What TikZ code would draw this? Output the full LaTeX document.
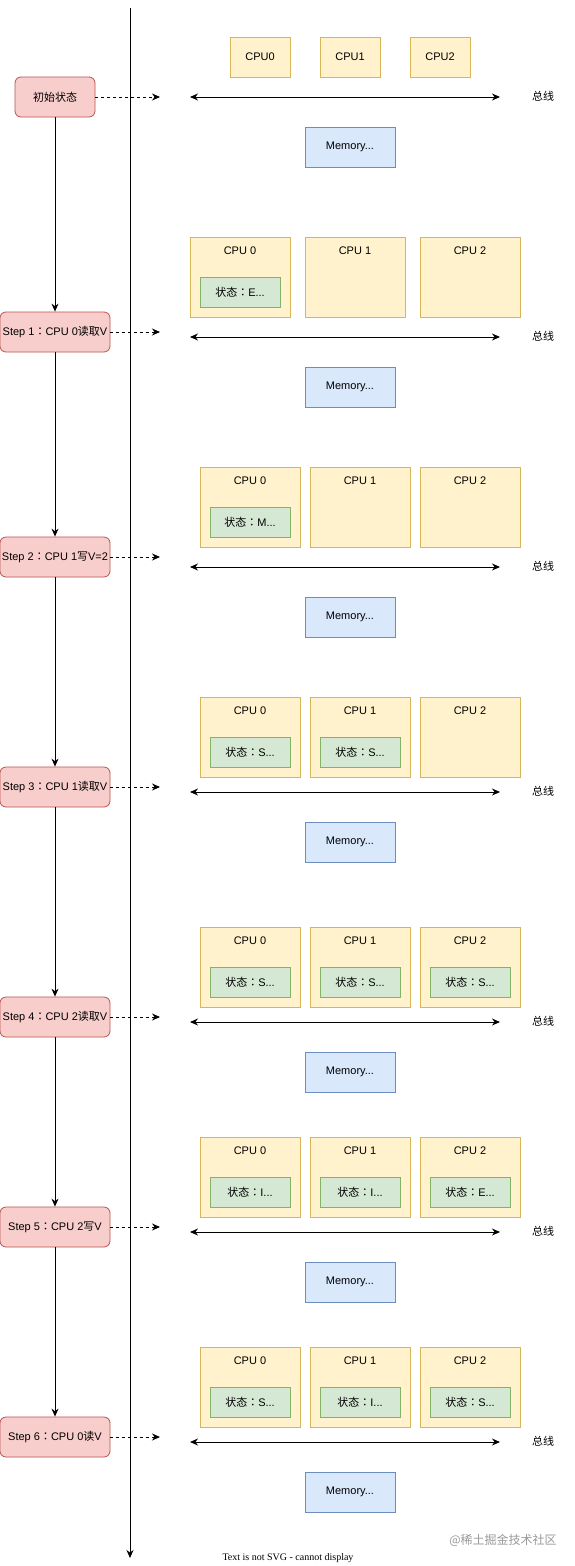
\documentclass[tikz,border=0pt]{standalone}
\usepackage{fontspec}
\setmainfont{Liberation Sans}
\newfontfamily\cjk{Noto Sans CJK SC}
\newfontfamily\cjkc{Noto Sans CJK TC}
\newfontfamily\serifont{Liberation Serif}
\usetikzlibrary{arrows.meta}
\definecolor{pinkF}{HTML}{F8CECC}
\definecolor{pinkD}{HTML}{B85450}
\definecolor{yelF}{HTML}{FFF2CC}
\definecolor{yelD}{HTML}{D6B656}
\definecolor{grnF}{HTML}{D5E8D4}
\definecolor{grnD}{HTML}{82B366}
\definecolor{bluF}{HTML}{DAE8FC}
\definecolor{bluD}{HTML}{6C8EBF}
\newcommand{\zh}[1]{{\cjk #1}}
\newcommand{\cln}{{\cjkc ：}}
\tikzset{
  stepbox/.style={draw=pinkD, fill=pinkF, rounded corners=6pt, minimum width=110pt, minimum height=40pt, inner sep=0pt, line width=0.8pt},
  cpubig/.style={draw=yelD, fill=yelF, minimum width=100pt, minimum height=80pt, inner sep=0pt, line width=0.8pt},
  cpusmall/.style={draw=yelD, fill=yelF, minimum width=60pt, minimum height=40pt, inner sep=0pt, line width=0.8pt},
  statebox/.style={draw=grnD, fill=grnF, minimum width=80pt, minimum height=30pt, inner sep=0pt, line width=0.8pt},
  membox/.style={draw=bluD, fill=bluF, minimum width=90pt, minimum height=40pt, inner sep=0pt, line width=0.8pt},
  flowarrow/.style={line width=1pt, -{Stealth[length=8pt,width=7pt]}},
  dasharrow/.style={line width=0.9pt, dash pattern=on 3pt off 3pt, -{Stealth[length=8pt,width=7pt]}},
  busarrow/.style={line width=1pt, {Stealth[length=8pt,width=7pt]}-{Stealth[length=8pt,width=7pt]}},
  plain/.style={inner sep=0pt},
}
\begin{document}
\begin{tikzpicture}[x=1pt,y=-1pt, font=\fontsize{11}{13}\selectfont]
\useasboundingbox[fill=white] (0,0) rectangle (575,1566);

% main vertical axis
\coordinate (axtop) at (130,8);
\coordinate (axbot) at (130,1558);
\draw[flowarrow] (axtop) -- (axbot);

% flow boxes
\node[stepbox, minimum width=80pt] (s0) at (55,97) {\zh{初始状态}};
\node[stepbox] (s1) at (55,332) {Step 1\cln CPU 0\zh{读取}V};
\node[stepbox] (s2) at (55,557) {Step 2\cln CPU 1\zh{写}V=2};
\node[stepbox] (s3) at (55,787) {Step 3\cln CPU 1\zh{读取}V};
\node[stepbox] (s4) at (55,1017) {Step 4\cln CPU 2\zh{读取}V};
\node[stepbox] (s5) at (55,1227) {Step 5\cln CPU 2\zh{写}V};
\node[stepbox] (s6) at (55,1437) {Step 6\cln CPU 0\zh{读}V};
\foreach \a/\b in {0/1,1/2,2/3,3/4,4/5,5/6}
  \draw[flowarrow] (s\a.south) -- (s\b.north);

% dashed arrows
\foreach \i/\y in {0/97,1/332,2/557,3/787,4/1017,5/1227,6/1437}{
  \coordinate (d\i) at (160,\y);
  \draw[dasharrow] (s\i.east) -- (d\i);
}

% buses, labels, memory
\foreach \i/\y in {0/97,1/337,2/567,3/792,4/1022,5/1232,6/1442}{
  \coordinate (bl\i) at (190,\y);
  \coordinate (br\i) at (500,\y);
  \draw[busarrow] (bl\i) -- (br\i);
  \node[plain] (bt\i) at (543,\y-1) {\zh{总线}};
  \node[membox] (m\i) at (350,\y+50) {Memory...};
}

% initial CPUs
\node[cpusmall] (c00) at (260,57) {CPU0};
\node[cpusmall] (c01) at (350,57) {CPU1};
\node[cpusmall] (c02) at (440,57) {CPU2};

% step CPUs
\foreach \r/\t/\xa/\xb/\xc in {1/237/240/355/470, 2/467/250/360/470, 3/697/250/360/470, 4/927/250/360/470, 5/1137/250/360/470, 6/1347/250/360/470}{
  \node[cpubig] (c\r0) at (\xa,\t+40) {};
  \node[cpubig] (c\r1) at (\xb,\t+40) {};
  \node[cpubig] (c\r2) at (\xc,\t+40) {};
  \foreach \k in {0,1,2}
    \node[plain] (c\r\k l) at ([yshift=-14pt]c\r\k.north) {CPU \k};
}

% states
\foreach \r/\k/\s in {1/0/E, 2/0/M, 3/0/S, 3/1/S, 4/0/S, 4/1/S, 4/2/S, 5/0/I, 5/1/I, 5/2/E, 6/0/S, 6/1/I, 6/2/S}
  \node[statebox] (st\r\k) at ([yshift=-15pt]c\r\k.center) {\zh{状态}\cln\s...};

% bottom texts
\node[plain, text=black!40, font=\cjk\fontsize{12}{14}\selectfont] (wm) at (503,1540) {@稀土掘金技术社区};
\node[plain, font=\serifont\fontsize{10}{12}\selectfont] (nosvg) at (288,1558) {Text is not SVG - cannot display};
\end{tikzpicture}
\end{document}
